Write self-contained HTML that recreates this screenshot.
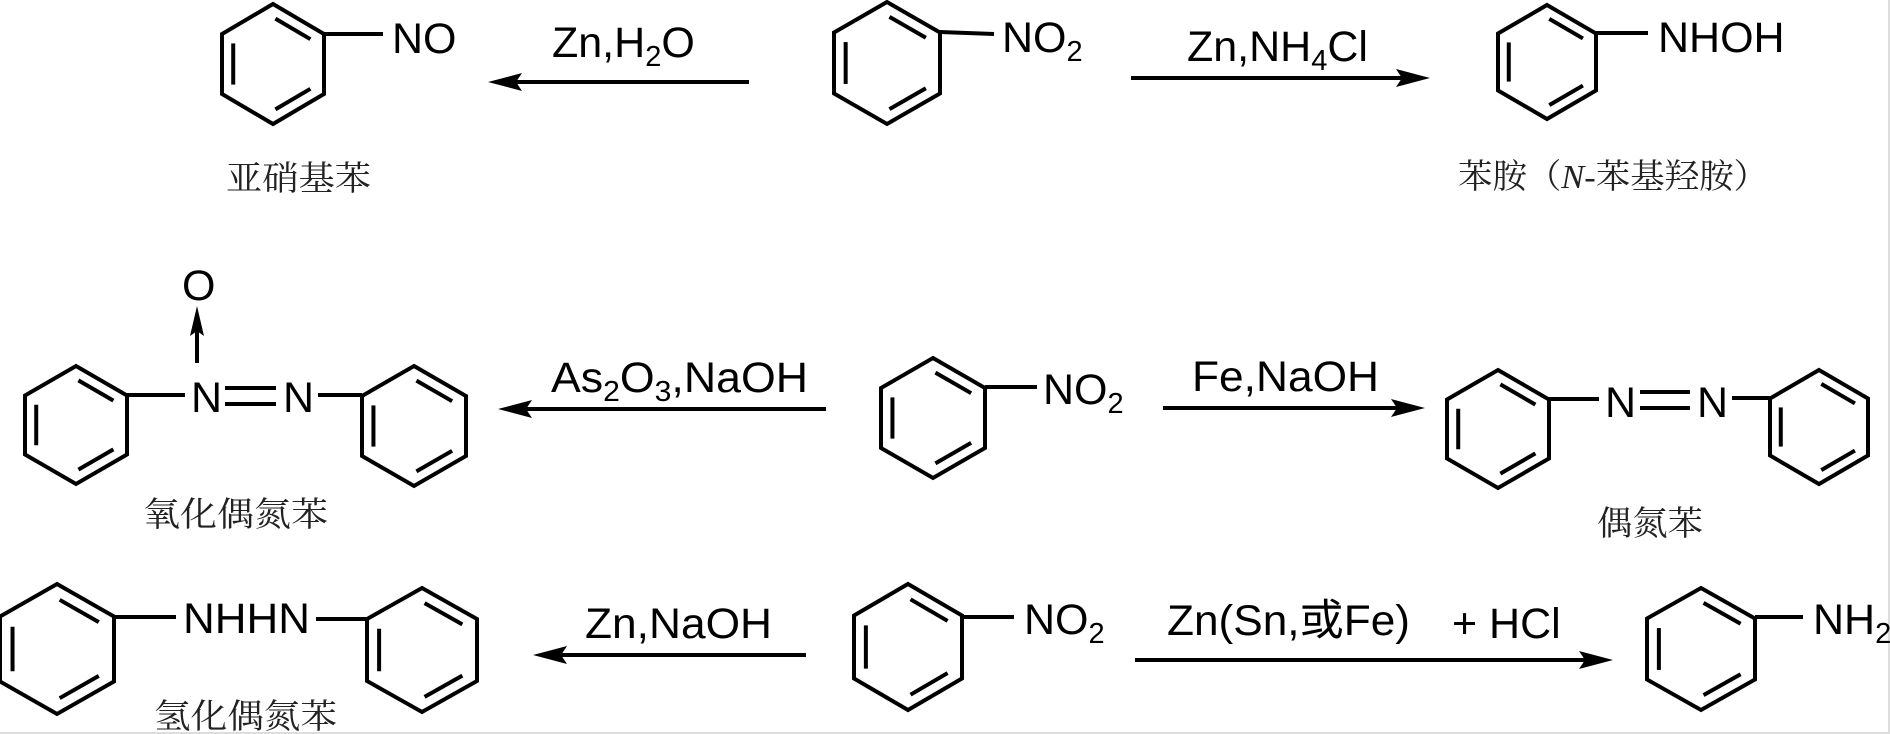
<!DOCTYPE html>
<html><head><meta charset="utf-8"><style>
html,body{margin:0;padding:0;background:#fff}
svg{display:block}
.t{font-family:"Liberation Sans",Arial,sans-serif;font-size:43px;fill:#000}
.c{font-family:"Liberation Serif","Noto Serif CJK SC",serif;font-size:34px;fill:#222}
</style></head><body>
<svg id="s" width="1890" height="734" viewBox="0 0 1890 734" xmlns="http://www.w3.org/2000/svg">
<rect x="0" y="0" width="1890" height="734" fill="#fff"/>
<line x1="0" y1="733" x2="1890" y2="733" stroke="#ddd" stroke-width="2"/>
<line x1="1889" y1="0" x2="1889" y2="734" stroke="#ddd" stroke-width="2"/>
<g id="rings" stroke="#000" stroke-width="4" fill="none" stroke-linejoin="miter"></g>
<g stroke="#000" stroke-width="4" fill="none">
<line x1="324" y1="34" x2="383" y2="34"/>
<line x1="940" y1="32" x2="994" y2="34"/>
<line x1="1596" y1="33" x2="1648" y2="33"/>
<line x1="127" y1="395" x2="185" y2="395"/>
<line x1="225" y1="388" x2="276" y2="388"/>
<line x1="225" y1="404" x2="276" y2="404"/>
<line x1="318" y1="395" x2="362" y2="395"/>
<line x1="197" y1="363" x2="197" y2="325"/>
<line x1="985" y1="387" x2="1037" y2="387"/>
<line x1="1549" y1="399" x2="1599" y2="399"/>
<line x1="1640" y1="392" x2="1690" y2="392"/>
<line x1="1640" y1="408" x2="1690" y2="408"/>
<line x1="1732" y1="398" x2="1770" y2="398"/>
<line x1="114" y1="617" x2="176" y2="617"/>
<line x1="316" y1="619" x2="366" y2="619"/>
<line x1="962" y1="617" x2="1014" y2="617"/>
<line x1="1755" y1="617" x2="1803" y2="617"/>
<!-- arrows -->
<line x1="749" y1="82" x2="505" y2="82"/>
<line x1="1131" y1="78" x2="1410" y2="78"/>
<line x1="826" y1="409" x2="515" y2="409"/>
<line x1="1163" y1="408" x2="1405" y2="408"/>
<line x1="806" y1="655" x2="550" y2="655"/>
<line x1="1135" y1="660" x2="1593" y2="660"/>
</g>
<g fill="#000">
<polygon points="197,306 204,336 197,331 190,336"/>
<polygon points="488,82 522,73 516,82 522,91"/>
<polygon points="1430,78 1396,69 1402,78 1396,87"/>
<polygon points="498,409 532,400 526,409 532,418"/>
<polygon points="1425,408 1391,399 1397,408 1391,417"/>
<polygon points="533,655 567,646 561,655 567,664"/>
<polygon points="1613,660 1579,651 1585,660 1579,669"/>
</g>
<!-- Latin labels -->
<text class="t" x="392" y="53">NO</text>
<text class="t" x="552" y="57">Zn,H<tspan font-size="29" dy="9">2</tspan><tspan dy="-9">O</tspan></text>
<text class="t" x="1002" y="52">NO<tspan font-size="29" dy="9">2</tspan></text>
<text class="t" x="1187" y="61">Zn,NH<tspan font-size="29" dy="9">4</tspan><tspan dy="-9">Cl</tspan></text>
<text class="t" x="1658" y="52">NHOH</text>
<text class="t" x="182" y="300">O</text>
<text class="t" x="191" y="412">N</text>
<text class="t" x="283" y="412">N</text>
<text class="t" x="551" y="392" textLength="257" lengthAdjust="spacingAndGlyphs">As<tspan font-size="29" dy="9">2</tspan><tspan dy="-9">O</tspan><tspan font-size="29" dy="9">3</tspan><tspan dy="-9">,NaOH</tspan></text>
<text class="t" x="1043" y="404">NO<tspan font-size="29" dy="9">2</tspan></text>
<text class="t" x="1192" y="391" textLength="187" lengthAdjust="spacingAndGlyphs">Fe,NaOH</text>
<text class="t" x="1605" y="417">N</text>
<text class="t" x="1697" y="417">N</text>
<text class="t" x="183" y="633" textLength="127" lengthAdjust="spacingAndGlyphs">NHHN</text>
<text class="t" x="585" y="638" textLength="187" lengthAdjust="spacingAndGlyphs">Zn,NaOH</text>
<text class="t" x="1024" y="634">NO<tspan font-size="29" dy="9">2</tspan></text>
<text x="1167" y="635" textLength="243" lengthAdjust="spacingAndGlyphs" style="font-family:'Liberation Sans','Noto Sans CJK SC',sans-serif;font-size:43px">Zn(Sn,或Fe)</text>
<text class="t" x="1452" y="638">+ HCl</text>
<text class="t" x="1813" y="634">NH<tspan font-size="29" dy="9">2</tspan></text>
<!-- CJK labels -->
<text class="c" x="226" y="190" textLength="145" lengthAdjust="spacingAndGlyphs">亚硝基苯</text>
<text class="c" x="1458" y="188" textLength="310" lengthAdjust="spacingAndGlyphs">苯胺（<tspan font-style="italic">N</tspan>-苯基羟胺）</text>
<text class="c" x="143" y="526" textLength="185" lengthAdjust="spacingAndGlyphs">氧化偶氮苯</text>
<text class="c" x="1597" y="535" textLength="106" lengthAdjust="spacingAndGlyphs">偶氮苯</text>
<text class="c" x="154" y="728" textLength="183" lengthAdjust="spacingAndGlyphs">氢化偶氮苯</text>
</svg>
<script>
(function(){
var R=[[273,64,51,60],[887,63,53,61],[1547,62,49,57],[76,425,51,59],[414,426,52,60],[933,418,52,60],[1498,429,51,59],[1819,427,49,57],[57,649,57,65],[422,650,55,62],[908,647,54,63],[1701,649,54,61]];
var g=document.getElementById('rings'),ns='http://www.w3.org/2000/svg';
R.forEach(function(r){
 var cx=r[0],cy=r[1],w=r[2],h=r[3];
 var v=[[cx,cy-h],[cx+w,cy-h/2],[cx+w,cy+h/2],[cx,cy+h],[cx-w,cy+h/2],[cx-w,cy-h/2]];
 var p=document.createElementNS(ns,'polygon');
 p.setAttribute('points',v.map(function(a){return a.join(',')}).join(' '));
 g.appendChild(p);
 [[0,1],[2,3],[4,5]].forEach(function(e){
  var A=v[e[0]],B=v[e[1]],f=0.78;
  var a=[cx+f*(A[0]-cx),cy+f*(A[1]-cy)],b=[cx+f*(B[0]-cx),cy+f*(B[1]-cy)];
  var s=0.06,P=[a[0]+s*(b[0]-a[0]),a[1]+s*(b[1]-a[1])],Q=[b[0]-s*(b[0]-a[0]),b[1]-s*(b[1]-a[1])];
  var l=document.createElementNS(ns,'line');
  l.setAttribute('x1',P[0]);l.setAttribute('y1',P[1]);l.setAttribute('x2',Q[0]);l.setAttribute('y2',Q[1]);
  g.appendChild(l);
 });
});
})();
</script>
</body></html>
